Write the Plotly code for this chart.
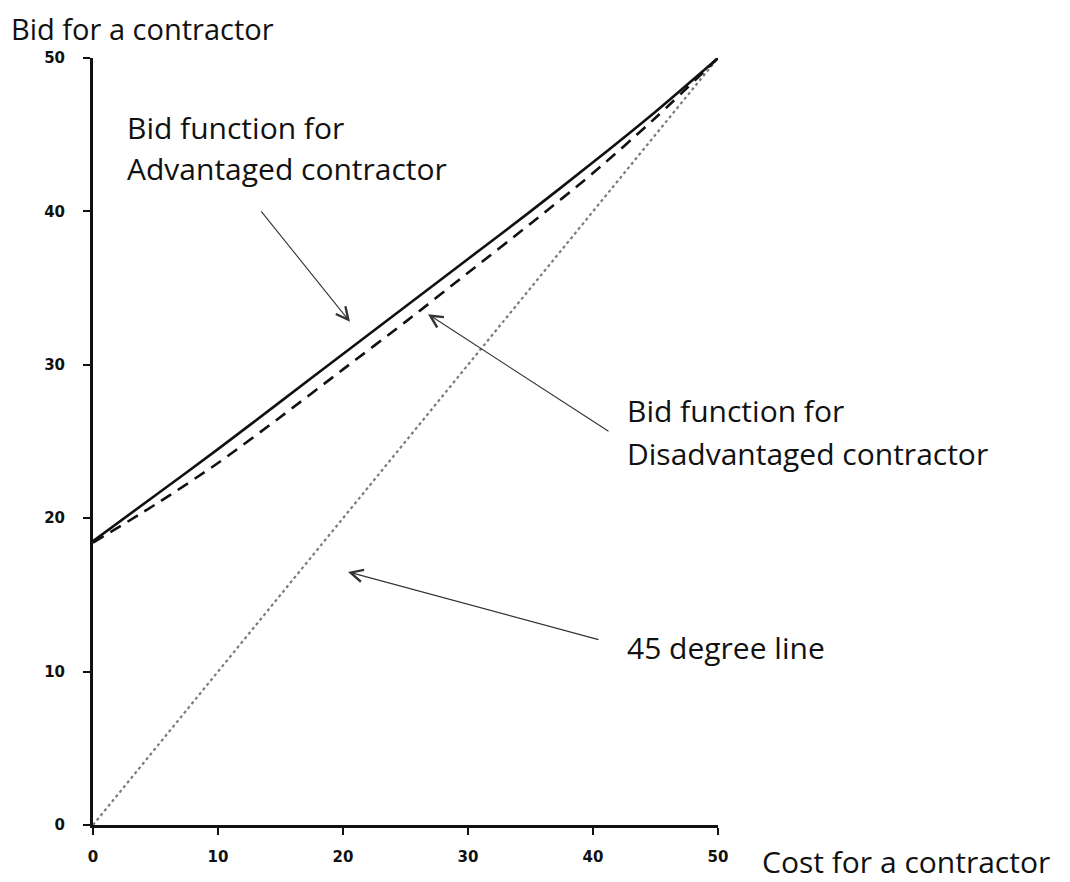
import plotly.graph_objects as go

# Data
cost = [0, 5, 10, 15, 20, 25, 30, 35, 40, 45, 50]
bid_advantaged = [18.5, 21.5, 24.5, 27.6, 30.7, 33.8, 36.9, 40.0, 43.2, 46.5, 50.0]
bid_disadvantaged = [18.4, 20.9, 23.6, 26.6, 29.7, 32.8, 36.0, 39.2, 42.5, 46.1, 50.0]
line45_x = [0, 50]
line45_y = [0, 50]
tick_vals = [0, 10, 20, 30, 40, 50]

fig = go.Figure()
fig.add_trace(go.Scatter(x=line45_x, y=line45_y, mode="lines",
                         line=dict(color="#7a7a7a", width=2.2, dash="dot"),
                         showlegend=False, hoverinfo="skip"))
fig.add_trace(go.Scatter(x=cost, y=bid_disadvantaged, mode="lines",
                         line=dict(color="#111111", width=2.6, dash="12px,8px",
                                   shape="spline", smoothing=0.8),
                         showlegend=False, hoverinfo="skip"))
fig.add_trace(go.Scatter(x=cost, y=bid_advantaged, mode="lines",
                         line=dict(color="#111111", width=2.6,
                                   shape="spline", smoothing=0.8),
                         showlegend=False, hoverinfo="skip"))

txt_font = dict(family="'Open Sans', 'Noto Sans', sans-serif", size=30, color="#111111")
title_font = dict(family="'Open Sans', 'Noto Sans', sans-serif", size=29, color="#111111")

texts = [
    ("Bid function for", 2.56, 45.5),
    ("Advantaged contractor", 2.56, 42.8),
    ("Bid function for", 42.56, 27.05),
    ("Disadvantaged contractor", 42.56, 24.25),
    ("45 degree line", 42.56, 11.54),
]
for t, x, y in texts:
    fig.add_annotation(x=x, y=y, xref="x", yref="y", text=t, showarrow=False,
                       xanchor="left", yanchor="middle", font=txt_font)

# axis titles (outside the plotting area)
fig.add_annotation(x=-0.1328, y=1.0652, xref="paper", yref="paper",
                   text="Bid for a contractor", showarrow=False, borderpad=0,
                   xanchor="left", yanchor="top", font=title_font)
fig.add_annotation(x=1.0672, y=-0.0482, xref="paper", yref="paper",
                   text="Cost for a contractor", showarrow=False,
                   xanchor="left", yanchor="middle", font=txt_font)

arrows = [
    ((13.36, 40.1), (20.56, 32.8)),
    ((41.36, 25.6), (26.8, 33.3)),
    ((40.56, 12.06), (20.4, 16.5)),
]
for (tx, ty), (hx, hy) in arrows:
    fig.add_annotation(x=hx, y=hy, ax=tx, ay=ty, xref="x", yref="y",
                       axref="x", ayref="y", text="", showarrow=True,
                       arrowhead=5, arrowsize=2.2, arrowwidth=1.1,
                       arrowcolor="#333333")

axis_common = dict(
    tickvals=tick_vals, range=[0, 50], showgrid=False, zeroline=False,
    showline=True, linecolor="#111111", linewidth=3,
    ticks="outside", ticklen=7, tickwidth=2, tickcolor="#111111",
    tickfont=dict(family="DejaVu Sans", size=15, color="#111111", weight="bold"),
)
fig.update_xaxes(**axis_common, ticklabelstandoff=9)
fig.update_yaxes(**axis_common, ticklabelstandoff=15)

fig.update_layout(
    width=1070, height=882,
    margin=dict(l=85, r=360, t=50, b=65),
    plot_bgcolor="white", paper_bgcolor="white",
    showlegend=False,
)

fig.write_html("out.html")
